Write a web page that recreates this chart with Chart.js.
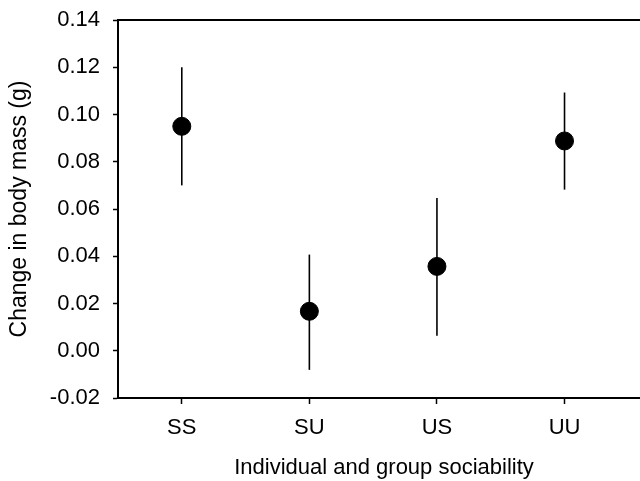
<!DOCTYPE html>
<html><head><meta charset="utf-8">
<script src="https://cdn.jsdelivr.net/npm/chart.js@4/dist/chart.umd.min.js"></script>
<style>html,body{margin:0;padding:0;background:#fff;overflow:hidden;}#wrap{width:640px;height:481px;overflow:hidden;}</style>
</head><body><div id="wrap"><canvas id="c" width="660" height="481"></canvas></div>
<script>
const categories = ['SS', 'SU', 'US', 'UU'];
const means = [0.095, 0.0167, 0.0357, 0.0888];
const errUpper = [0.120, 0.0407, 0.0647, 0.1093];
const errLower = [0.070, -0.0081, 0.0064, 0.0682];
const yTicks = [-0.02, 0, 0.02, 0.04, 0.06, 0.08, 0.10, 0.12, 0.14];

const FONT = "'Liberation Sans', Arial, sans-serif";

const errorBars = {
  id: 'errorBars',
  beforeDatasetsDraw(chart) {
    const {ctx, scales: {x, y}} = chart;
    ctx.save();
    ctx.strokeStyle = '#000';
    ctx.lineWidth = 1.6;
    categories.forEach((c, i) => {
      const px = x.getPixelForValue(i);
      ctx.beginPath();
      ctx.moveTo(px, y.getPixelForValue(errUpper[i]));
      ctx.lineTo(px, y.getPixelForValue(errLower[i]));
      ctx.stroke();
    });
    ctx.restore();
  },
  afterDraw(chart) {
    const {ctx, chartArea} = chart;
    ctx.save();
    ctx.strokeStyle = '#000';
    ctx.lineWidth = 2;
    ctx.beginPath();
    ctx.moveTo(chartArea.left - 1, chartArea.top);
    ctx.lineTo(chartArea.right + 12, chartArea.top);
    ctx.stroke();
    ctx.restore();
  }
};

new Chart(document.getElementById('c'), {
  type: 'scatter',
  data: {
    datasets: [{
      data: means.map((v, i) => ({x: i, y: v})),
      backgroundColor: '#000',
      borderColor: '#000',
      pointRadius: 9,
      pointHoverRadius: 9
    }]
  },
  options: {
    responsive: false,
    animation: false,
    layout: {padding: {top: 20, right: 0, left: 0, bottom: 0}},
    plugins: {legend: {display: false}, tooltip: {enabled: false}},
    scales: {
      x: {
        type: 'linear',
        min: -0.5,
        max: 3.67,
        afterBuildTicks(scale) { scale.ticks = categories.map((c, i) => ({value: i})); },
        afterFit(scale) { scale.height = 83; scale.paddingLeft = 0; scale.paddingRight = 0; },
        ticks: {
          color: '#000',
          font: {family: FONT, size: 22},
          padding: 11,
          callback: (v) => categories[v]
        },
        grid: {drawOnChartArea: false, drawTicks: true, tickLength: 6, color: '#000', tickWidth: 1.5},
        border: {display: true, color: '#000', width: 2},
        title: {display: true, text: 'Individual and group sociability', color: '#000',
                font: {family: FONT, size: 22}, padding: {top: 6, bottom: 0}}
      },
      y: {
        min: -0.02,
        max: 0.14,
        afterBuildTicks(scale) { scale.ticks = yTicks.map(v => ({value: v})); },
        afterFit(scale) { scale.width = 118; scale.paddingTop = 0; scale.paddingBottom = 0; },
        ticks: {
          color: '#000',
          font: {family: FONT, size: 22},
          padding: 13,
          callback: (v) => v.toFixed(2)
        },
        grid: {drawOnChartArea: false, drawTicks: true, tickLength: 5, color: '#000', tickWidth: 1.5},
        border: {display: true, color: '#000', width: 2},
        title: {display: true, text: 'Change in body mass (g)', color: '#000',
                font: {family: FONT, size: 23}, padding: {top: 6, bottom: 4}}
      }
    }
  },
  plugins: [errorBars]
});
</script>
</body></html>
